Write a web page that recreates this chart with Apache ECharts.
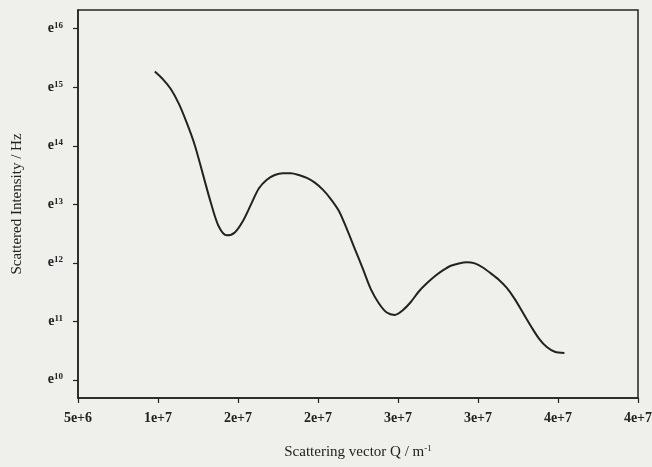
<!DOCTYPE html>
<html>
<head>
<meta charset="utf-8">
<script src="https://cdn.jsdelivr.net/npm/echarts@6/dist/echarts.min.js"></script>
<style>
html,body{margin:0;padding:0;background:#eff0ec;}
#chart{width:652px;height:467px;}
</style>
</head>
<body>
<div id="chart"></div>
<script>
// Scattering vector Q (m^-1)
var qValues = [9.8e6, 1.03e7, 1.08e7, 1.13e7, 1.18e7, 1.23e7, 1.28e7, 1.33e7, 1.38e7, 1.43e7, 1.48e7, 1.53e7, 1.58e7, 1.63e7, 1.68e7, 1.73e7, 1.78e7, 1.83e7, 1.88e7, 1.93e7, 1.98e7, 2.03e7, 2.08e7, 2.13e7, 2.18e7, 2.23e7, 2.28e7, 2.33e7, 2.38e7, 2.43e7, 2.48e7, 2.53e7, 2.58e7, 2.63e7, 2.68e7, 2.73e7, 2.78e7, 2.83e7, 2.88e7, 2.93e7, 2.98e7, 3.03e7, 3.08e7, 3.13e7, 3.18e7, 3.23e7, 3.28e7, 3.33e7, 3.38e7, 3.43e7, 3.48e7, 3.54e7];
// ln(Intensity) — exponent of e
var lnIntensity = [15.27, 15.14, 14.97, 14.72, 14.39, 14.01, 13.52, 13.03, 12.62, 12.47, 12.52, 12.71, 12.99, 13.27, 13.42, 13.50, 13.53, 13.53, 13.50, 13.45, 13.37, 13.25, 13.09, 12.89, 12.58, 12.24, 11.90, 11.55, 11.31, 11.15, 11.11, 11.19, 11.33, 11.51, 11.65, 11.77, 11.87, 11.95, 11.99, 12.01, 11.99, 11.92, 11.82, 11.71, 11.57, 11.38, 11.15, 10.92, 10.71, 10.56, 10.48, 10.46];
var xTickValues = [5e6, 1e7, 1.5e7, 2e7, 2.5e7, 3e7, 3.5e7, 4e7];
var xTickLabels = ['5e+6', '1e+7', '2e+7', '2e+7', '3e+7', '3e+7', '4e+7', '4e+7'];
var yTickExponents = [10, 11, 12, 13, 14, 15, 16];

var data = qValues.map(function (q, i) { return [q, lnIntensity[i]]; });

var chart = echarts.init(document.getElementById('chart'), null, {renderer: 'canvas'});
var font = 'Liberation Serif';
chart.setOption({
  backgroundColor: '#eff0ec',
  animation: false,
  grid: {left: 78, right: 14, top: 10, bottom: 69, containLabel: false, outerBoundsMode: 'none',
    show: true, borderColor: '#222', borderWidth: 1.5, backgroundColor: 'transparent'},
  xAxis: {
    type: 'value', min: 5e6, max: 4e7, interval: 5e6,
    axisLine: {show: true, lineStyle: {color: '#222', width: 1.5}},
    axisTick: {show: true, length: 5, lineStyle: {color: '#222', width: 1.2}},
    splitLine: {show: false},
    axisLabel: {
      margin: 13, color: '#222', fontFamily: font, fontSize: 14, fontWeight: 'bold',
      formatter: function (v) { var i = xTickValues.indexOf(v); return i >= 0 ? xTickLabels[i] : ''; }
    },
    name: 'Scattering vector Q / m{sup|-1}', nameLocation: 'middle', nameGap: 46,
    nameTextStyle: {color: '#222', fontFamily: font, fontSize: 15,
      rich: {sup: {fontFamily: font, fontSize: 9, color: '#222', verticalAlign: 'bottom', padding: [0, 0, 8, 0]}}}
  },
  yAxis: {
    type: 'value', min: 9.69, max: 16.32,
    axisLine: {show: true, lineStyle: {color: '#222', width: 1.5}},
    axisTick: {show: true, length: 5, customValues: yTickExponents, lineStyle: {color: '#222', width: 1.2}},
    splitLine: {show: false},
    axisLabel: {
      margin: 15, color: '#222', fontFamily: font, fontSize: 14, customValues: yTickExponents,
      formatter: function (v) { return '{b|e}{s|' + v + '}'; },
      rich: {
        b: {fontFamily: font, fontSize: 14, fontWeight: 'bold', color: '#222'},
        s: {fontFamily: font, fontSize: 9, fontWeight: 'bold', color: '#222', verticalAlign: 'bottom', padding: [0, 0, 6, 0]}
      }
    },
    name: 'Scattered Intensity / Hz', nameLocation: 'middle', nameGap: 53,
    nameTextStyle: {color: '#222', fontFamily: font, fontSize: 15}
  },
  series: [{
    type: 'line', data: data, smooth: 0.3, showSymbol: false,
    lineStyle: {color: '#222', width: 2}
  }]
});
</script>
</body>
</html>
